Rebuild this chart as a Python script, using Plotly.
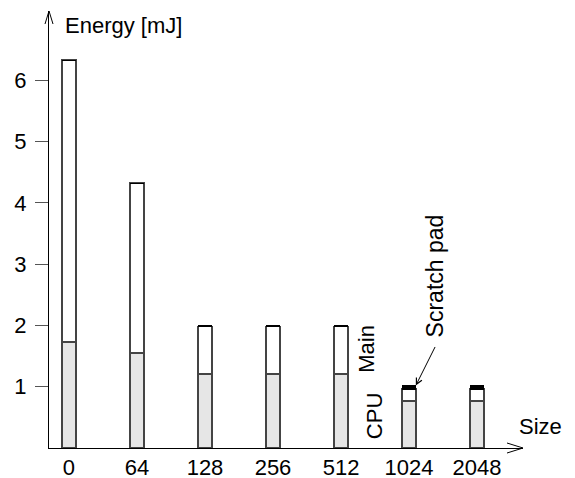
import plotly.graph_objects as go

sizes = ["0", "64", "128", "256", "512", "1024", "2048"]
cpu = [1.73, 1.55, 1.21, 1.21, 1.21, 0.77, 0.77]
main_mem = [4.60, 2.77, 0.77, 0.77, 0.77, 0.19, 0.19]
scratch = [0.0, 0.0, 0.02, 0.02, 0.02, 0.06, 0.06]
y_ticks = [1, 2, 3, 4, 5, 6]

FONT = "Liberation Sans, Arial, sans-serif"
xpos = list(range(len(sizes)))
line = dict(color="#444444", width=1.5)
bw = 0.2

fig = go.Figure()
fig.add_bar(x=xpos, y=cpu, width=bw, marker=dict(color="#e6e6e6", line=line), name="CPU")
fig.add_bar(x=xpos, y=main_mem, width=bw, marker=dict(color="white", line=line), name="Main")
fig.add_bar(x=xpos, y=scratch, width=bw, marker=dict(color="black", line=dict(color="black", width=1)), name="Scratch pad")

fig.update_layout(
    width=575, height=478,
    margin=dict(l=49, r=52, t=11, b=30, autoexpand=False),
    barmode="stack",
    showlegend=False,
    plot_bgcolor="white", paper_bgcolor="white",
    font=dict(family=FONT, size=22, color="black"),
    xaxis=dict(range=[-0.294, 6.676], tickmode="array", tickvals=xpos, ticktext=sizes,
               showgrid=False, zeroline=False, showline=True, linecolor="black", linewidth=1,
               ticks="", tickfont=dict(size=22), automargin=False),
    yaxis=dict(range=[0, 7.13], tickmode="array", tickvals=y_ticks,
               showgrid=False, zeroline=False, showline=True, linecolor="black", linewidth=1,
               ticks="outside", ticklen=13, tickcolor="#555555", tickwidth=1,
               ticklabelstandoff=4, tickfont=dict(size=22), automargin=False),
)

# axis arrowheads (open V)
for dx, dy in [(-16, 5), (-16, -5)]:
    fig.add_shape(type="line", xref="paper", yref="paper", xsizemode="pixel", ysizemode="pixel",
                  xanchor=1, yanchor=0, x0=0, y0=0, x1=dx, y1=dy, line=dict(color="black", width=1))
for dx, dy in [(-4, -13), (4, -13)]:
    fig.add_shape(type="line", xref="paper", yref="paper", xsizemode="pixel", ysizemode="pixel",
                  xanchor=0, yanchor=1, x0=0, y0=0, x1=dx, y1=dy, line=dict(color="black", width=1))

fig.add_annotation(text="Energy [mJ]", xref="paper", yref="paper", x=0, y=1, xshift=14, yshift=-14,
                   xanchor="left", yanchor="middle", showarrow=False, font=dict(size=22))
fig.add_annotation(text="Size", xref="paper", yref="paper", x=1, y=0, xshift=-6, yshift=22,
                   xanchor="left", yanchor="middle", showarrow=False, font=dict(size=22))
fig.add_annotation(text="Main", xref="x", yref="y", x=4.5, y=1.62, xshift=-8, textangle=-90,
                   showarrow=False, font=dict(size=22))
fig.add_annotation(text="CPU", xref="x", yref="y", x=4.5, y=0.52, xshift=-1, textangle=-90,
                   showarrow=False, font=dict(size=22))
fig.add_annotation(text="Scratch pad", xref="x", yref="y", x=5, y=2.8, xshift=26, textangle=-90,
                   showarrow=False, font=dict(size=23))
fig.add_annotation(text="", xref="x", yref="y", x=5 + bw / 2, y=cpu[5] + main_mem[5] + scratch[5],
                   ax=20, ay=-40, showarrow=True, arrowhead=5, arrowsize=1.2, arrowwidth=1,
                   arrowcolor="black")

fig.write_html("out.html", config={"displayModeBar": False},
               post_script="document.body.style.margin='0';document.body.style.overflow='hidden';")
